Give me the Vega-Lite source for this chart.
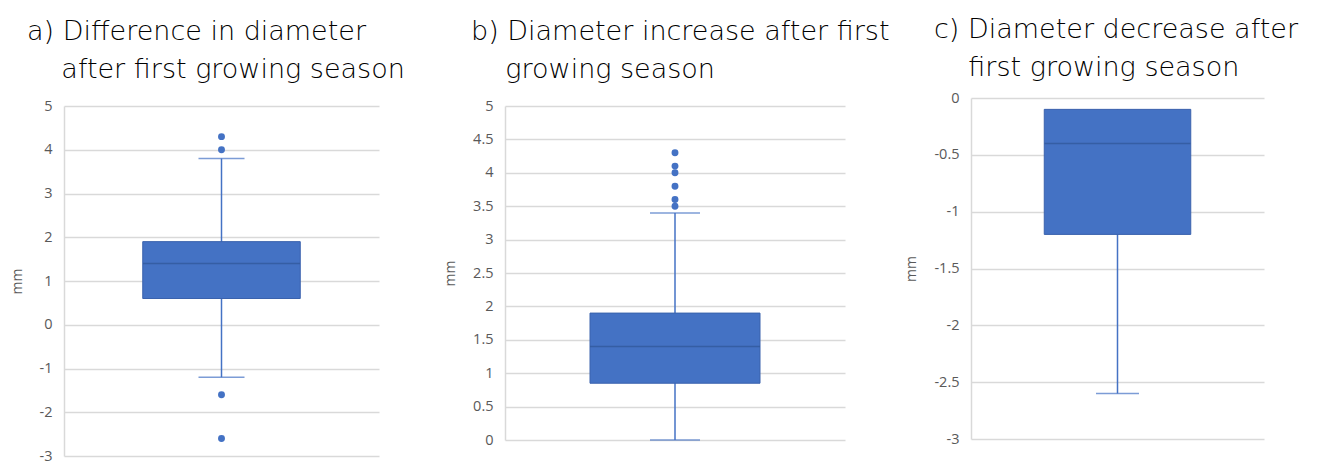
{
  "$schema": "https://vega.github.io/schema/vega-lite/v6.json",
  "background": "white",
  "padding": {"left": 10, "top": 16, "right": 5, "bottom": 0},
  "bounds": "flush",
  "spacing": 126,
  "config": {
    "view": {"stroke": null},
    "axis": {
      "labelFont": "Open Sans", "labelFontSize": 14.5, "labelColor": "#595959",
      "titleFont": "Open Sans", "titleFontSize": 14, "titleColor": "#595959", "titleFontWeight": "normal",
      "domainColor": "#d9d9d9", "domainWidth": 1.5, "gridColor": "#d9d9d9", "gridWidth": 1.5,
      "ticks": false, "labelPadding": 12, "titlePadding": 15
    },
    "title": {"font": "DejaVu Sans", "fontSize": 27, "fontWeight": 300, "color": "#000000", "anchor": "start", "frame": "group", "dx": -37, "lineHeight": 38, "offset": 14}
  },
  "datasets": {
    "box": [
      {"panel": "a", "lower": -1.2, "q1": 0.6, "median": 1.4, "q3": 1.9, "upper": 3.8},
      {"panel": "b", "lower": 0, "q1": 0.85, "median": 1.4, "q3": 1.9, "upper": 3.4},
      {"panel": "c", "lower": -2.6, "q1": -1.2, "median": -0.4, "q3": -0.1, "upper": -0.1}
    ],
    "outliers": [
      {"panel": "a", "value": 4.3}, {"panel": "a", "value": 4.0}, {"panel": "a", "value": -1.6}, {"panel": "a", "value": -2.6},
      {"panel": "b", "value": 4.3}, {"panel": "b", "value": 4.1}, {"panel": "b", "value": 4.0}, {"panel": "b", "value": 3.8}, {"panel": "b", "value": 3.6}, {"panel": "b", "value": 3.5}
    ]
  },
  "hconcat": [
    {
      "width": 315, "height": 358,
      "title": {"text": ["a) Difference in diameter", "\u200b\u00a0\u00a0\u00a0\u00a0after first growing season"]},
      "layer": [
        {"data": {"name": "box"}, "transform": [{"filter": "datum.panel === 'a'"}],
         "mark": {"type": "rule", "color": "#4472C4", "strokeWidth": 1.5},
         "encoding": {"x": {"field": "panel", "type": "nominal", "axis": null, "scale": {"paddingInner": 0, "paddingOuter": 0.5}},
           "y": {"field": "lower", "type": "quantitative", "title": "mm", "scale": {"domain": [-3, 5], "range": [358, 8], "nice": false, "zero": false},
             "axis": {"title": "mm", "values": [-3, -2, -1, 0, 1, 2, 3, 4, 5], "labelExpr": "'' + datum.value", "grid": true}},
           "y2": {"field": "upper"}}},
        {"data": {"name": "box"}, "transform": [{"filter": "datum.panel === 'a'"}],
         "mark": {"type": "tick", "color": "#4472C4", "size": 46, "thickness": 1.5},
         "encoding": {"x": {"field": "panel", "type": "nominal", "axis": null}, "y": {"field": "lower", "type": "quantitative", "title": "mm", "axis": {"title": "mm", "values": [-3, -2, -1, 0, 1, 2, 3, 4, 5], "labelExpr": "'' + datum.value", "grid": true}, "scale": {"domain": [-3, 5], "range": [358, 8], "nice": false, "zero": false}}}},
        {"data": {"name": "box"}, "transform": [{"filter": "datum.panel === 'a'"}],
         "mark": {"type": "tick", "color": "#4472C4", "size": 46, "thickness": 1.5},
         "encoding": {"x": {"field": "panel", "type": "nominal", "axis": null}, "y": {"field": "upper", "type": "quantitative", "title": "mm", "axis": {"title": "mm", "values": [-3, -2, -1, 0, 1, 2, 3, 4, 5], "labelExpr": "'' + datum.value", "grid": true}, "scale": {"domain": [-3, 5], "range": [358, 8], "nice": false, "zero": false}}}},
        {"data": {"name": "box"}, "transform": [{"filter": "datum.panel === 'a'"}],
         "mark": {"type": "bar", "color": "#4472C4", "stroke": "#3A62AD", "strokeWidth": 1},
         "encoding": {"x": {"field": "panel", "type": "nominal", "axis": null}, "y": {"field": "q1", "type": "quantitative", "title": "mm", "axis": {"title": "mm", "values": [-3, -2, -1, 0, 1, 2, 3, 4, 5], "labelExpr": "'' + datum.value", "grid": true}, "scale": {"domain": [-3, 5], "range": [358, 8], "nice": false, "zero": false}}, "y2": {"field": "q3"}}},
        {"data": {"name": "box"}, "transform": [{"filter": "datum.panel === 'a'"}],
         "mark": {"type": "tick", "color": "#2F5597", "size": 157, "thickness": 1.5},
         "encoding": {"x": {"field": "panel", "type": "nominal", "axis": null}, "y": {"field": "median", "type": "quantitative", "title": "mm", "axis": {"title": "mm", "values": [-3, -2, -1, 0, 1, 2, 3, 4, 5], "labelExpr": "'' + datum.value", "grid": true}, "scale": {"domain": [-3, 5], "range": [358, 8], "nice": false, "zero": false}}}},
        {"data": {"name": "outliers"}, "transform": [{"filter": "datum.panel === 'a'"}],
         "mark": {"type": "circle", "color": "#4472C4", "size": 48, "opacity": 1},
         "encoding": {"x": {"field": "panel", "type": "nominal", "axis": null}, "y": {"field": "value", "type": "quantitative", "title": "mm", "axis": {"title": "mm", "values": [-3, -2, -1, 0, 1, 2, 3, 4, 5], "labelExpr": "'' + datum.value", "grid": true}, "scale": {"domain": [-3, 5], "range": [358, 8], "nice": false, "zero": false}}}}
      ]
    },
    {
      "width": 340, "height": 342,
      "title": {"text": ["b) Diameter increase after first", "\u200b\u00a0\u00a0\u00a0\u00a0growing season"], "dx": -34},
      "layer": [
        {"data": {"name": "box"}, "transform": [{"filter": "datum.panel === 'b'"}],
         "mark": {"type": "rule", "color": "#4472C4", "strokeWidth": 1.5},
         "encoding": {"x": {"field": "panel", "type": "nominal", "axis": null, "scale": {"paddingInner": 0, "paddingOuter": 0.5}},
           "y": {"field": "lower", "type": "quantitative", "title": "mm", "scale": {"domain": [0, 5], "range": [342, 8], "nice": false, "zero": false},
             "axis": {"title": "mm", "values": [0, 0.5, 1, 1.5, 2, 2.5, 3, 3.5, 4, 4.5, 5], "labelExpr": "'' + datum.value", "grid": true}},
           "y2": {"field": "upper"}}},
        {"data": {"name": "box"}, "transform": [{"filter": "datum.panel === 'b'"}],
         "mark": {"type": "tick", "color": "#4472C4", "size": 50, "thickness": 1.5},
         "encoding": {"x": {"field": "panel", "type": "nominal", "axis": null}, "y": {"field": "lower", "type": "quantitative", "title": "mm", "axis": {"title": "mm", "values": [0, 0.5, 1, 1.5, 2, 2.5, 3, 3.5, 4, 4.5, 5], "labelExpr": "'' + datum.value", "grid": true}, "scale": {"domain": [0, 5], "range": [342, 8], "nice": false, "zero": false}}}},
        {"data": {"name": "box"}, "transform": [{"filter": "datum.panel === 'b'"}],
         "mark": {"type": "tick", "color": "#4472C4", "size": 50, "thickness": 1.5},
         "encoding": {"x": {"field": "panel", "type": "nominal", "axis": null}, "y": {"field": "upper", "type": "quantitative", "title": "mm", "axis": {"title": "mm", "values": [0, 0.5, 1, 1.5, 2, 2.5, 3, 3.5, 4, 4.5, 5], "labelExpr": "'' + datum.value", "grid": true}, "scale": {"domain": [0, 5], "range": [342, 8], "nice": false, "zero": false}}}},
        {"data": {"name": "box"}, "transform": [{"filter": "datum.panel === 'b'"}],
         "mark": {"type": "bar", "color": "#4472C4", "stroke": "#3A62AD", "strokeWidth": 1},
         "encoding": {"x": {"field": "panel", "type": "nominal", "axis": null}, "y": {"field": "q1", "type": "quantitative", "title": "mm", "axis": {"title": "mm", "values": [0, 0.5, 1, 1.5, 2, 2.5, 3, 3.5, 4, 4.5, 5], "labelExpr": "'' + datum.value", "grid": true}, "scale": {"domain": [0, 5], "range": [342, 8], "nice": false, "zero": false}}, "y2": {"field": "q3"}}},
        {"data": {"name": "box"}, "transform": [{"filter": "datum.panel === 'b'"}],
         "mark": {"type": "tick", "color": "#2F5597", "size": 170, "thickness": 1.5},
         "encoding": {"x": {"field": "panel", "type": "nominal", "axis": null}, "y": {"field": "median", "type": "quantitative", "title": "mm", "axis": {"title": "mm", "values": [0, 0.5, 1, 1.5, 2, 2.5, 3, 3.5, 4, 4.5, 5], "labelExpr": "'' + datum.value", "grid": true}, "scale": {"domain": [0, 5], "range": [342, 8], "nice": false, "zero": false}}}},
        {"data": {"name": "outliers"}, "transform": [{"filter": "datum.panel === 'b'"}],
         "mark": {"type": "circle", "color": "#4472C4", "size": 48, "opacity": 1},
         "encoding": {"x": {"field": "panel", "type": "nominal", "axis": null}, "y": {"field": "value", "type": "quantitative", "title": "mm", "axis": {"title": "mm", "values": [0, 0.5, 1, 1.5, 2, 2.5, 3, 3.5, 4, 4.5, 5], "labelExpr": "'' + datum.value", "grid": true}, "scale": {"domain": [0, 5], "range": [342, 8], "nice": false, "zero": false}}}}
      ]
    },
    {
      "width": 293, "height": 341,
      "title": {"text": ["c) Diameter decrease after", "\u200b\u00a0\u00a0\u00a0\u00a0first growing season"], "offset": 8},
      "layer": [
        {"data": {"name": "box"}, "transform": [{"filter": "datum.panel === 'c'"}],
         "mark": {"type": "rule", "color": "#4472C4", "strokeWidth": 1.5},
         "encoding": {"x": {"field": "panel", "type": "nominal", "axis": null, "scale": {"paddingInner": 0, "paddingOuter": 0.5}},
           "y": {"field": "lower", "type": "quantitative", "title": "mm", "scale": {"domain": [-3, 0], "range": [341, 0], "nice": false, "zero": false},
             "axis": {"title": "mm", "values": [-3, -2.5, -2, -1.5, -1, -0.5, 0], "labelExpr": "'' + datum.value", "grid": true}},
           "y2": {"field": "upper"}}},
        {"data": {"name": "box"}, "transform": [{"filter": "datum.panel === 'c'"}],
         "mark": {"type": "tick", "color": "#4472C4", "size": 43, "thickness": 1.5},
         "encoding": {"x": {"field": "panel", "type": "nominal", "axis": null}, "y": {"field": "lower", "type": "quantitative", "title": "mm", "axis": {"title": "mm", "values": [-3, -2.5, -2, -1.5, -1, -0.5, 0], "labelExpr": "'' + datum.value", "grid": true}, "scale": {"domain": [-3, 0], "range": [341, 0], "nice": false, "zero": false}}}},
        {"data": {"name": "box"}, "transform": [{"filter": "datum.panel === 'c'"}],
         "mark": {"type": "bar", "color": "#4472C4", "stroke": "#3A62AD", "strokeWidth": 1},
         "encoding": {"x": {"field": "panel", "type": "nominal", "axis": null}, "y": {"field": "q1", "type": "quantitative", "title": "mm", "axis": {"title": "mm", "values": [-3, -2.5, -2, -1.5, -1, -0.5, 0], "labelExpr": "'' + datum.value", "grid": true}, "scale": {"domain": [-3, 0], "range": [341, 0], "nice": false, "zero": false}}, "y2": {"field": "q3"}}},
        {"data": {"name": "box"}, "transform": [{"filter": "datum.panel === 'c'"}],
         "mark": {"type": "tick", "color": "#2F5597", "size": 146, "thickness": 1.5},
         "encoding": {"x": {"field": "panel", "type": "nominal", "axis": null}, "y": {"field": "median", "type": "quantitative", "title": "mm", "axis": {"title": "mm", "values": [-3, -2.5, -2, -1.5, -1, -0.5, 0], "labelExpr": "'' + datum.value", "grid": true}, "scale": {"domain": [-3, 0], "range": [341, 0], "nice": false, "zero": false}}}}
      ]
    }
  ]
}
